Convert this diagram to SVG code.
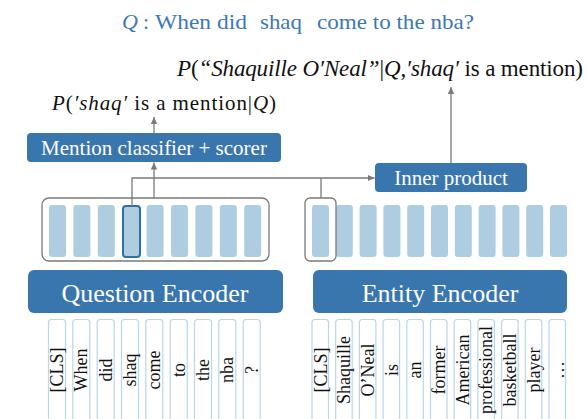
<svg xmlns="http://www.w3.org/2000/svg" width="587" height="419" viewBox="0 0 587 419">
<style>
.box{fill:#3a76ae;}
.btxt{fill:#fff;text-anchor:middle;}
.cell{fill:#afcde1;}
.tok{fill:#fff;stroke:#b9d6ea;stroke-width:1.2;}
.ttxt{font-size:18px;fill:#111;text-anchor:middle;}
.cont{fill:none;stroke:#7a7a7a;stroke-width:1.3;}
.conn{fill:none;stroke:#7a7a7a;stroke-width:1.3;}
.math{fill:#111;}
.it{font-style:italic;}
.title{font-size:22px;fill:#3c78b4;}
.serif{font-family:"Liberation Serif","Times New Roman",Times,Tinos,"Noto Serif","DejaVu Serif",FreeSerif,serif;}
</style>
<defs>
<marker id="ah" markerWidth="8" markerHeight="8" refX="7" refY="4" orient="auto" markerUnits="userSpaceOnUse">
<path d="M0,0.8 L7,4 L0,7.2 Z" fill="#7a7a7a"/>
</marker>
</defs>
<rect width="587" height="419" fill="#fff"/>
<g class="serif">

<g id="title">
<text class="title it" x="122" y="29">Q</text>
<text class="title" x="143" y="29">:</text>
<text class="title" x="155" y="29" textLength="92" lengthAdjust="spacingAndGlyphs">When did</text>
<text class="title" x="260" y="29" textLength="42" lengthAdjust="spacingAndGlyphs">shaq</text>
<text class="title" x="317" y="29" textLength="157" lengthAdjust="spacingAndGlyphs">come to the nba?</text>
</g>

<g id="prob-entity">
<text class="math" x="177" y="76" font-size="23" textLength="406" lengthAdjust="spacing" xml:space="preserve"><tspan class="it">P</tspan>(<tspan class="it">“Shaquille O′Neal”</tspan>|<tspan class="it">Q</tspan>,<tspan class="it">′shaq′</tspan> is a mention)</text>
</g>

<g id="prob-mention">
<text class="math" x="52" y="110" font-size="21" textLength="224" lengthAdjust="spacing" xml:space="preserve"><tspan class="it">P</tspan>(<tspan class="it">′shaq′</tspan> is a mention|<tspan class="it">Q</tspan>)</text>
</g>

<g id="mention-classifier">
<rect class="box" x="27" y="133" width="254" height="29" rx="4"/>
<text class="btxt" x="154" y="155" font-size="21">Mention classifier + scorer</text>
</g>

<g id="inner-product">
<rect class="box" x="375" y="163" width="152" height="29" rx="4"/>
<text class="btxt" x="451" y="185" font-size="21">Inner product</text>
</g>

<g id="question-embeddings">
<rect class="cont" x="42" y="198" width="227" height="63" rx="7"/>
<rect class="cell" x="49" y="205" width="17" height="52" rx="3"/>
<rect class="cell" x="73.4" y="205" width="17" height="52" rx="3"/>
<rect class="cell" x="97.8" y="205" width="17" height="52" rx="3"/>
<rect class="cell" x="123" y="206" width="17" height="51" rx="3" stroke="#2f6ea6" stroke-width="2"/>
<rect class="cell" x="146.6" y="205" width="17" height="52" rx="3"/>
<rect class="cell" x="171" y="205" width="17" height="52" rx="3"/>
<rect class="cell" x="195.4" y="205" width="17" height="52" rx="3"/>
<rect class="cell" x="219.8" y="205" width="17" height="52" rx="3"/>
<rect class="cell" x="244.2" y="205" width="17" height="52" rx="3"/>
</g>

<g id="entity-embeddings">
<rect class="cell" x="312" y="205" width="17" height="52" rx="3"/>
<rect class="cell" x="335.8" y="205" width="17" height="52" rx="3"/>
<rect class="cell" x="359.6" y="205" width="17" height="52" rx="3"/>
<rect class="cell" x="383.4" y="205" width="17" height="52" rx="3"/>
<rect class="cell" x="407.2" y="205" width="17" height="52" rx="3"/>
<rect class="cell" x="431" y="205" width="17" height="52" rx="3"/>
<rect class="cell" x="454.8" y="205" width="17" height="52" rx="3"/>
<rect class="cell" x="478.6" y="205" width="17" height="52" rx="3"/>
<rect class="cell" x="502.4" y="205" width="17" height="52" rx="3"/>
<rect class="cell" x="526.2" y="205" width="17" height="52" rx="3"/>
<rect class="cell" x="550" y="205" width="17" height="52" rx="3"/>
<rect class="cont" x="305" y="198" width="31" height="63" rx="5"/>
</g>

<g id="question-encoder">
<rect class="box" x="28" y="270" width="255" height="43" rx="6"/>
<text class="btxt" x="155" y="302" font-size="26">Question Encoder</text>
</g>

<g id="entity-encoder">
<rect class="box" x="313" y="270" width="254" height="43" rx="6"/>
<text class="btxt" x="440" y="302" font-size="26">Entity Encoder</text>
</g>

<g id="question-tokens">
<rect class="tok" x="48.5" y="319.5" width="17" height="120" rx="3"/>
<rect class="tok" x="72.8" y="319.5" width="17" height="120" rx="3"/>
<rect class="tok" x="97.2" y="319.5" width="17" height="120" rx="3"/>
<rect class="tok" x="121.5" y="319.5" width="17" height="120" rx="3"/>
<rect class="tok" x="145.8" y="319.5" width="17" height="120" rx="3"/>
<rect class="tok" x="170.2" y="319.5" width="17" height="120" rx="3"/>
<rect class="tok" x="194.5" y="319.5" width="17" height="120" rx="3"/>
<rect class="tok" x="218.8" y="319.5" width="17" height="120" rx="3"/>
<rect class="tok" x="243.2" y="319.5" width="17" height="120" rx="3"/>
<text class="ttxt" transform="translate(63,370) rotate(-90)">[CLS]</text>
<text class="ttxt" transform="translate(87.3,370) rotate(-90)">When</text>
<text class="ttxt" transform="translate(111.7,370) rotate(-90)">did</text>
<text class="ttxt" transform="translate(136,370) rotate(-90)">shaq</text>
<text class="ttxt" transform="translate(160.3,370) rotate(-90)">come</text>
<text class="ttxt" transform="translate(184.7,370) rotate(-90)">to</text>
<text class="ttxt" transform="translate(209,370) rotate(-90)">the</text>
<text class="ttxt" transform="translate(233.3,370) rotate(-90)">nba</text>
<text class="ttxt" transform="translate(257.7,370) rotate(-90)">?</text>
</g>

<g id="entity-tokens">
<rect class="tok" x="312" y="319.5" width="16.5" height="120" rx="3"/>
<rect class="tok" x="335.7" y="319.5" width="16.5" height="120" rx="3"/>
<rect class="tok" x="359.4" y="319.5" width="16.5" height="120" rx="3"/>
<rect class="tok" x="383.1" y="319.5" width="16.5" height="120" rx="3"/>
<rect class="tok" x="406.8" y="319.5" width="16.5" height="120" rx="3"/>
<rect class="tok" x="430.5" y="319.5" width="16.5" height="120" rx="3"/>
<rect class="tok" x="454.2" y="319.5" width="16.5" height="120" rx="3"/>
<rect class="tok" x="477.9" y="319.5" width="16.5" height="120" rx="3"/>
<rect class="tok" x="501.6" y="319.5" width="16.5" height="120" rx="3"/>
<rect class="tok" x="525.3" y="319.5" width="16.5" height="120" rx="3"/>
<rect class="tok" x="549" y="319.5" width="16.5" height="120" rx="3"/>
<text class="ttxt" transform="translate(326.5,370) rotate(-90)">[CLS]</text>
<text class="ttxt" transform="translate(350.2,370) rotate(-90)">Shaquille</text>
<text class="ttxt" transform="translate(373.9,370) rotate(-90)">O’Neal</text>
<text class="ttxt" transform="translate(397.6,370) rotate(-90)">is</text>
<text class="ttxt" transform="translate(421.3,370) rotate(-90)">an</text>
<text class="ttxt" transform="translate(445,370) rotate(-90)">former</text>
<text class="ttxt" transform="translate(468.7,370) rotate(-90)">American</text>
<text class="ttxt" transform="translate(492.4,370) rotate(-90)">professional</text>
<text class="ttxt" transform="translate(516.1,370) rotate(-90)">basketball</text>
<text class="ttxt" transform="translate(539.8,370) rotate(-90)">player</text>
<text class="ttxt" transform="translate(563.5,370) rotate(-90)">…</text>
</g>
</g>

<g id="connectors">
<line class="conn" x1="154" y1="198" x2="154" y2="162.5" marker-end="url(#ah)"/>
<line class="conn" x1="154" y1="133" x2="154" y2="117" marker-end="url(#ah)"/>
<polyline class="conn" points="132,206 132,178 374.5,178" marker-end="url(#ah)"/>
<line class="conn" x1="321" y1="198" x2="321" y2="178"/>
<line class="conn" x1="451" y1="163" x2="451" y2="87" marker-end="url(#ah)"/>
</g>
</svg>
